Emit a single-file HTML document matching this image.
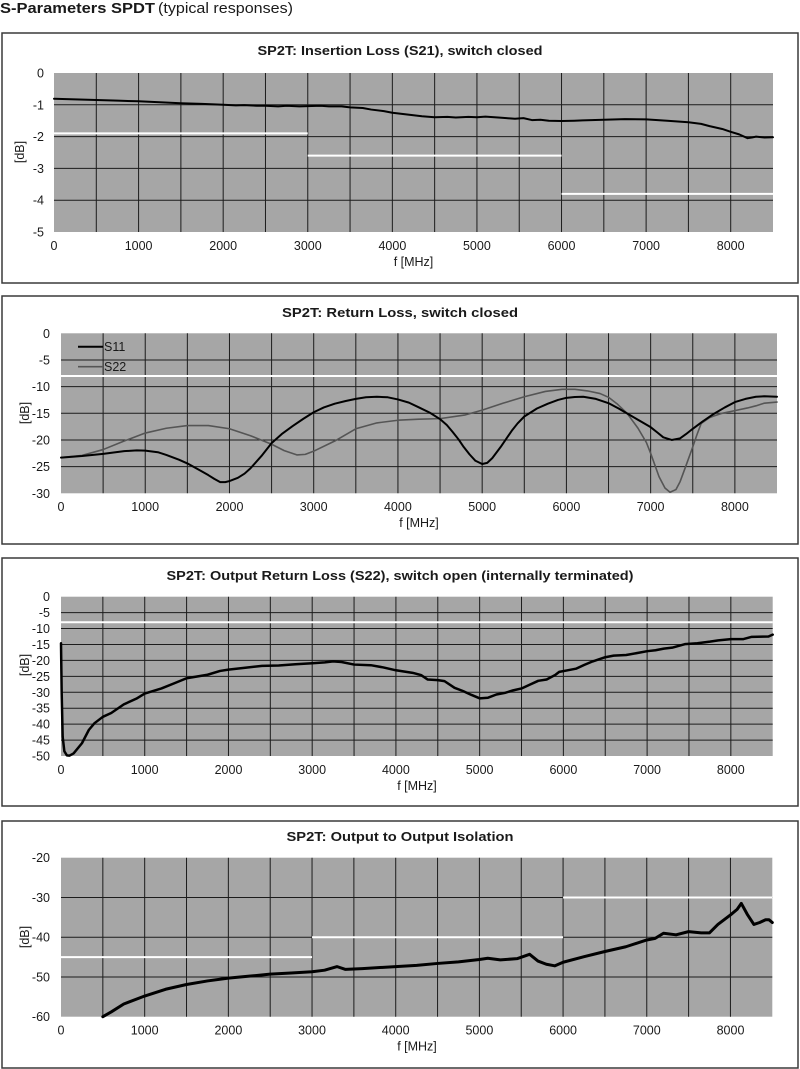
<!DOCTYPE html>
<html><head><meta charset="utf-8"><style>
html,body{margin:0;padding:0;background:#fff;}
svg{display:block;}
text{font-family:"Liberation Sans",Arial,sans-serif;fill:#1a1a1a;}
.t{font-size:13px;font-weight:bold;}
.k{font-size:12.5px;}
.g{stroke:#1c1c1c;stroke-width:1;fill:none;vector-effect:non-scaling-stroke;}
.w{stroke:#fff;stroke-width:2;fill:none;vector-effect:non-scaling-stroke;}
.c{fill:none;stroke:#000;stroke-linejoin:round;stroke-linecap:round;vector-effect:non-scaling-stroke;}
.frame{fill:none;stroke:#3a3a3a;stroke-width:1.5;}
</style></head><body>
<svg width="800" height="1069" viewBox="0 0 800 1069" xmlns="http://www.w3.org/2000/svg">
<rect width="800" height="1069" fill="#fff"/>
<text x="0" y="13" style="font-size:15px;font-weight:bold" textLength="155" lengthAdjust="spacingAndGlyphs">S-Parameters SPDT</text>
<text x="158" y="13" style="font-size:15px" textLength="135" lengthAdjust="spacingAndGlyphs">(typical responses)</text>

<!-- Chart 1 -->
<rect class="frame" x="2" y="33" width="796" height="250"/>
<text class="t" x="400" y="55" text-anchor="middle" textLength="285" lengthAdjust="spacingAndGlyphs">SP2T: Insertion Loss (S21), switch closed</text>
<rect x="54" y="73" width="719" height="159" fill="#a6a6a6"/>
<g transform="translate(54,73) scale(0.084588,-31.8)">
<path class="g" d="M500,0V-5M1000,0V-5M1500,0V-5M2000,0V-5M2500,0V-5M3000,0V-5M3500,0V-5M4000,0V-5M4500,0V-5M5000,0V-5M5500,0V-5M6000,0V-5M6500,0V-5M7000,0V-5M7500,0V-5M8000,0V-5M0,-1H8500M0,-2H8500M0,-3H8500M0,-4H8500"/>
<path class="w" d="M0,-1.9H3000M3000,-2.6H6000M6000,-3.8H8500"/>
<polyline class="c" style="stroke-width:2" points="0,-0.81 250,-0.83 500,-0.85 750,-0.87 1000,-0.89 1250,-0.92 1500,-0.95 1750,-0.97 2000,-1.0 2150,-1.02 2250,-1.01 2400,-1.03 2500,-1.03 2650,-1.05 2750,-1.03 2900,-1.05 3000,-1.04 3150,-1.03 3250,-1.05 3400,-1.05 3500,-1.08 3650,-1.1 3750,-1.15 3900,-1.2 4000,-1.25 4100,-1.28 4250,-1.33 4350,-1.36 4500,-1.39 4650,-1.38 4750,-1.4 4900,-1.38 5000,-1.39 5100,-1.37 5250,-1.4 5350,-1.42 5450,-1.44 5550,-1.42 5650,-1.48 5750,-1.47 5850,-1.5 6000,-1.51 6150,-1.5 6250,-1.49 6500,-1.47 6750,-1.45 7000,-1.46 7250,-1.5 7500,-1.55 7650,-1.6 7750,-1.67 7900,-1.76 8000,-1.85 8100,-1.93 8200,-2.05 8250,-2.03 8300,-2.0 8400,-2.03 8500,-2.02"/>
</g>
<g class="k" text-anchor="end">
<text x="44" y="77.5">0</text><text x="44" y="109.3">-1</text><text x="44" y="141.1">-2</text><text x="44" y="172.9">-3</text><text x="44" y="204.7">-4</text><text x="44" y="236.5">-5</text>
</g>
<g class="k" text-anchor="middle">
<text x="54" y="250">0</text><text x="138.6" y="250">1000</text><text x="223.2" y="250">2000</text><text x="307.8" y="250">3000</text><text x="392.4" y="250">4000</text><text x="476.9" y="250">5000</text><text x="561.5" y="250">6000</text><text x="646.1" y="250">7000</text><text x="730.7" y="250">8000</text>
<text x="413.5" y="266">f [MHz]</text>
</g>
<text class="k" text-anchor="middle" transform="translate(24,152) rotate(-90)">[dB]</text>

<!-- Chart 2 -->
<rect class="frame" x="2" y="296" width="796" height="248"/>
<text class="t" x="400" y="317" text-anchor="middle" textLength="236" lengthAdjust="spacingAndGlyphs">SP2T:  Return Loss, switch closed</text>
<rect x="61" y="333.3" width="716" height="160" fill="#a6a6a6"/>
<g transform="translate(61,333.3) scale(0.084235,-5.3333)">
<path class="g" d="M500,0V-30M1000,0V-30M1500,0V-30M2000,0V-30M2500,0V-30M3000,0V-30M3500,0V-30M4000,0V-30M4500,0V-30M5000,0V-30M5500,0V-30M6000,0V-30M6500,0V-30M7000,0V-30M7500,0V-30M8000,0V-30M0,-5H8500M0,-10H8500M0,-15H8500M0,-20H8500M0,-25H8500"/>
<path class="w" d="M0,-8H8500"/>
<polyline class="c" style="stroke:#555;stroke-width:1.6" points="0,-23.3 250,-22.9 500,-21.8 750,-20.2 1000,-18.7 1250,-17.8 1500,-17.3 1750,-17.3 2000,-17.9 2250,-19.2 2500,-20.8 2650,-22.0 2800,-22.8 2900,-22.7 3000,-22.1 3250,-20.2 3500,-17.9 3750,-16.8 4000,-16.3 4250,-16.1 4500,-16.0 4800,-15.3 5000,-14.4 5250,-13.1 5500,-11.9 5750,-10.9 5950,-10.5 6100,-10.5 6250,-10.8 6400,-11.3 6500,-12.0 6600,-13.2 6720,-15.0 6850,-17.8 6950,-20.5 7000,-22.5 7100,-26.9 7170,-29.0 7230,-29.8 7300,-29.3 7350,-27.8 7420,-24.8 7500,-21.3 7550,-19.0 7600,-16.9 7700,-15.8 7750,-15.5 7850,-15.0 8000,-14.5 8150,-14.0 8250,-13.6 8350,-13.1 8500,-12.9"/>
<polyline class="c" style="stroke-width:2" points="0,-23.3 250,-23.0 500,-22.6 750,-22.1 900,-21.95 1000,-22.0 1150,-22.3 1250,-22.8 1400,-23.7 1500,-24.4 1650,-25.7 1750,-26.6 1820,-27.3 1890,-27.9 1950,-27.9 2000,-27.7 2100,-27.1 2180,-26.3 2250,-25.3 2380,-23.0 2500,-20.6 2620,-18.9 2750,-17.4 2880,-16.0 3000,-14.8 3120,-13.9 3250,-13.2 3380,-12.7 3500,-12.3 3620,-12.0 3750,-11.9 3880,-12.0 4000,-12.4 4130,-13.0 4250,-13.9 4380,-14.9 4500,-16.1 4580,-17.2 4650,-18.5 4720,-19.9 4780,-21.3 4850,-22.7 4920,-23.9 5000,-24.5 5060,-24.3 5120,-23.4 5220,-21.3 5350,-18.3 5420,-16.9 5500,-15.6 5580,-14.8 5650,-14.1 5780,-13.2 5900,-12.5 6000,-12.1 6100,-11.95 6200,-11.9 6350,-12.3 6500,-13.1 6620,-14.1 6750,-15.3 6880,-16.5 7000,-17.6 7080,-18.6 7150,-19.5 7250,-20.0 7350,-19.7 7420,-18.9 7500,-17.9 7620,-16.5 7750,-15.1 7880,-13.9 8000,-12.9 8125,-12.3 8250,-11.9 8350,-11.8 8500,-11.9"/>
</g>
<line x1="78" y1="346.7" x2="103" y2="346.7" stroke="#000" stroke-width="2"/>
<text class="k" x="104" y="351.2">S11</text>
<line x1="78" y1="366.7" x2="103" y2="366.7" stroke="#555" stroke-width="1.6"/>
<text class="k" x="104" y="371.2">S22</text>
<g class="k" text-anchor="end">
<text x="50" y="337.8">0</text><text x="50" y="364.5">-5</text><text x="50" y="391.2">-10</text><text x="50" y="417.8">-15</text><text x="50" y="444.5">-20</text><text x="50" y="471.2">-25</text><text x="50" y="497.8">-30</text>
</g>
<g class="k" text-anchor="middle">
<text x="61" y="511">0</text><text x="145.2" y="511">1000</text><text x="229.5" y="511">2000</text><text x="313.7" y="511">3000</text><text x="397.9" y="511">4000</text><text x="482.2" y="511">5000</text><text x="566.4" y="511">6000</text><text x="650.6" y="511">7000</text><text x="734.9" y="511">8000</text>
<text x="419" y="527">f [MHz]</text>
</g>
<text class="k" text-anchor="middle" transform="translate(29,413) rotate(-90)">[dB]</text>

<!-- Chart 3 -->
<rect class="frame" x="2" y="558" width="796" height="248"/>
<text class="t" x="400" y="580" text-anchor="middle" textLength="467" lengthAdjust="spacingAndGlyphs">SP2T: Output Return Loss (S22), switch open (internally terminated)</text>
<rect x="61" y="596.7" width="711.7" height="159.3" fill="#a6a6a6"/>
<g transform="translate(61,596.7) scale(0.08373,-3.186)">
<path class="g" d="M500,0V-50M1000,0V-50M1500,0V-50M2000,0V-50M2500,0V-50M3000,0V-50M3500,0V-50M4000,0V-50M4500,0V-50M5000,0V-50M5500,0V-50M6000,0V-50M6500,0V-50M7000,0V-50M7500,0V-50M8000,0V-50M0,-5H8500M0,-10H8500M0,-15H8500M0,-20H8500M0,-25H8500M0,-30H8500M0,-35H8500M0,-40H8500M0,-45H8500"/>
<path class="w" d="M0,-8H8500"/>
<polyline class="c" style="stroke-width:2.5" points="0,-14.6 8,-30 20,-44 40,-48.5 70,-49.8 100,-49.9 150,-49.2 250,-46 333,-41.8 400,-39.7 500,-37.7 600,-36.5 750,-33.8 900,-32 1000,-30.4 1200,-28.8 1350,-27.2 1500,-25.6 1750,-24.5 1900,-23.3 2000,-22.9 2200,-22.3 2400,-21.7 2600,-21.6 2800,-21.2 3000,-20.9 3150,-20.6 3250,-20.3 3350,-20.5 3500,-21.3 3700,-21.5 3850,-22.2 4000,-23.1 4200,-23.9 4300,-24.6 4380,-26.0 4500,-26.2 4580,-26.5 4700,-28.6 4800,-29.6 4900,-30.8 5000,-31.9 5100,-31.7 5200,-30.7 5300,-30.2 5400,-29.4 5500,-28.8 5600,-27.6 5700,-26.4 5800,-26.0 5900,-24.6 5950,-23.6 6050,-23.1 6150,-22.6 6250,-21.4 6350,-20.3 6500,-19.0 6600,-18.5 6750,-18.3 6900,-17.6 7000,-17.1 7100,-16.8 7200,-16.3 7300,-16.0 7450,-14.9 7600,-14.6 7750,-14.1 7850,-13.7 8000,-13.3 8150,-13.3 8250,-12.6 8450,-12.5 8500,-11.9"/>
</g>
<g class="k" text-anchor="end">
<text x="50" y="601.2">0</text><text x="50" y="617.1">-5</text><text x="50" y="633.1">-10</text><text x="50" y="649">-15</text><text x="50" y="664.9">-20</text><text x="50" y="680.9">-25</text><text x="50" y="696.8">-30</text><text x="50" y="712.7">-35</text><text x="50" y="728.6">-40</text><text x="50" y="744.6">-45</text><text x="50" y="760.5">-50</text>
</g>
<g class="k" text-anchor="middle">
<text x="61" y="774">0</text><text x="144.7" y="774">1000</text><text x="228.5" y="774">2000</text><text x="312.2" y="774">3000</text><text x="395.9" y="774">4000</text><text x="479.6" y="774">5000</text><text x="563.4" y="774">6000</text><text x="647.1" y="774">7000</text><text x="730.8" y="774">8000</text>
<text x="417" y="790">f [MHz]</text>
</g>
<text class="k" text-anchor="middle" transform="translate(29,665) rotate(-90)">[dB]</text>

<!-- Chart 4 -->
<rect class="frame" x="2" y="821" width="796" height="247"/>
<text class="t" x="400" y="841" text-anchor="middle" textLength="227" lengthAdjust="spacingAndGlyphs">SP2T: Output to Output Isolation</text>
<rect x="61" y="857.7" width="711.3" height="159" fill="#a6a6a6"/>
<g transform="translate(61,857.7) scale(0.08368,-3.975) translate(0,20)">
<path class="g" d="M500,-20V-60M1000,-20V-60M1500,-20V-60M2000,-20V-60M2500,-20V-60M3000,-20V-60M3500,-20V-60M4000,-20V-60M4500,-20V-60M5000,-20V-60M5500,-20V-60M6000,-20V-60M6500,-20V-60M7000,-20V-60M7500,-20V-60M8000,-20V-60M0,-30H8500M0,-40H8500M0,-50H8500"/>
<path class="w" d="M0,-45H3000M3000,-40H6000M6000,-30H8500"/>
<polyline class="c" style="stroke-width:3" points="500,-60 600,-58.8 750,-56.8 1000,-54.8 1250,-53.1 1500,-51.9 1750,-51.0 2000,-50.3 2250,-49.8 2500,-49.3 2750,-49.0 3000,-48.7 3150,-48.3 3300,-47.4 3400,-48.1 3600,-47.9 4000,-47.4 4250,-47.1 4500,-46.6 4750,-46.2 5000,-45.6 5100,-45.3 5250,-45.7 5450,-45.4 5600,-44.3 5700,-46.0 5800,-46.8 5900,-47.2 6000,-46.3 6250,-44.9 6500,-43.6 6750,-42.4 7000,-40.7 7100,-40.3 7200,-39.0 7350,-39.4 7500,-38.6 7650,-38.9 7750,-38.9 7850,-36.8 8000,-34.4 8080,-33.0 8130,-31.5 8200,-34.2 8280,-36.8 8350,-36.3 8420,-35.6 8460,-35.6 8500,-36.3"/>
</g>
<g class="k" text-anchor="end">
<text x="50" y="862.2">-20</text><text x="50" y="902">-30</text><text x="50" y="941.7">-40</text><text x="50" y="981.5">-50</text><text x="50" y="1021.2">-60</text>
</g>
<g class="k" text-anchor="middle">
<text x="61" y="1034.5">0</text><text x="144.7" y="1034.5">1000</text><text x="228.4" y="1034.5">2000</text><text x="312" y="1034.5">3000</text><text x="395.7" y="1034.5">4000</text><text x="479.4" y="1034.5">5000</text><text x="563.1" y="1034.5">6000</text><text x="646.8" y="1034.5">7000</text><text x="730.5" y="1034.5">8000</text>
<text x="417" y="1050.5">f [MHz]</text>
</g>
<text class="k" text-anchor="middle" transform="translate(29,937) rotate(-90)">[dB]</text>
</svg>
</body></html>
